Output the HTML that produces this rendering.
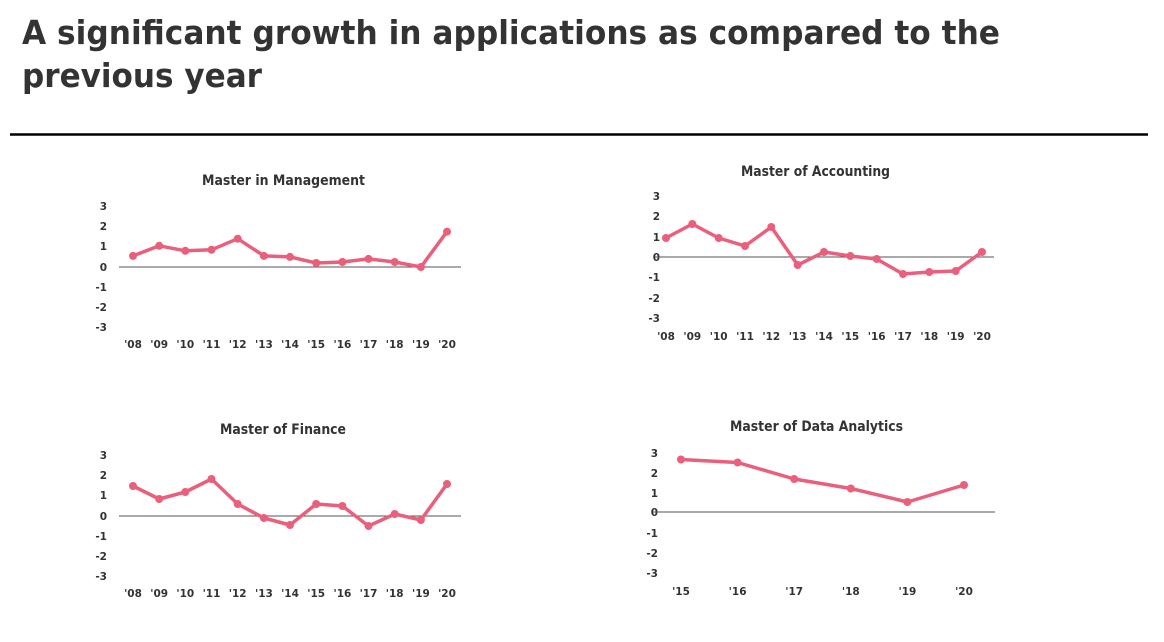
<!DOCTYPE html>
<html><head><meta charset="utf-8"><style>
html,body{margin:0;padding:0;background:#fff;width:1164px;height:642px;overflow:hidden}
svg{display:block}
text{font-family:"DejaVu Sans","Liberation Sans",sans-serif;font-weight:bold;fill:#333}
.t{font-size:14px}
.a{font-size:10.5px}
.y{text-anchor:end}
.x{text-anchor:middle}
polyline{fill:none;stroke:#ea5f7b;stroke-width:3.5;stroke-linejoin:round}
circle{fill:#ea5f7b}
.z{stroke:#555;stroke-width:1}
</style></head><body>
<svg width="1164" height="642" viewBox="0 0 1164 642">
<text x="22" y="44" font-size="33" textLength="978" lengthAdjust="spacingAndGlyphs">A significant growth in applications as compared to the</text>
<text x="22" y="87" font-size="33" textLength="240" lengthAdjust="spacingAndGlyphs">previous year</text>
<line x1="10" y1="134.5" x2="1148" y2="134.5" stroke="#000" stroke-width="2.5"/>

<!-- Chart 1 -->
<text class="t" x="202" y="185" textLength="163" lengthAdjust="spacingAndGlyphs">Master in Management</text>
<g class="a y"><text x="107" y="210">3</text><text x="107" y="230">2</text><text x="107" y="250">1</text><text x="107" y="271">0</text><text x="107" y="291">-1</text><text x="107" y="311">-2</text><text x="107" y="331">-3</text></g>
<line class="z" x1="119" y1="267" x2="461" y2="267"/>
<g class="a x"><text x="133" y="348">'08</text><text x="159.2" y="348">'09</text><text x="185.3" y="348">'10</text><text x="211.5" y="348">'11</text><text x="237.7" y="348">'12</text><text x="263.9" y="348">'13</text><text x="290" y="348">'14</text><text x="316.2" y="348">'15</text><text x="342.4" y="348">'16</text><text x="368.5" y="348">'17</text><text x="394.7" y="348">'18</text><text x="420.9" y="348">'19</text><text x="447" y="348">'20</text></g>
<polyline points="133,255.9 159.2,245.8 185.3,250.8 211.5,249.8 237.7,238.7 263.9,255.9 290,256.9 316.2,263 342.4,262 368.5,258.9 394.7,262 420.9,267 447,231.7"/>
<g><circle cx="133" cy="255.9" r="4"/><circle cx="159.2" cy="245.8" r="4"/><circle cx="185.3" cy="250.8" r="4"/><circle cx="211.5" cy="249.8" r="4"/><circle cx="237.7" cy="238.7" r="4"/><circle cx="263.9" cy="255.9" r="4"/><circle cx="290" cy="256.9" r="4"/><circle cx="316.2" cy="263" r="4"/><circle cx="342.4" cy="262" r="4"/><circle cx="368.5" cy="258.9" r="4"/><circle cx="394.7" cy="262" r="4"/><circle cx="420.9" cy="267" r="4"/><circle cx="447" cy="231.7" r="4"/></g>

<!-- Chart 2 -->
<text class="t" x="741" y="176" textLength="149" lengthAdjust="spacingAndGlyphs">Master of Accounting</text>
<g class="a y"><text x="660" y="200">3</text><text x="660" y="220">2</text><text x="660" y="241">1</text><text x="660" y="261">0</text><text x="660" y="281">-1</text><text x="660" y="302">-2</text><text x="660" y="322">-3</text></g>
<line class="z" x1="655" y1="257" x2="994" y2="257"/>
<g class="a x"><text x="666" y="340">'08</text><text x="692.3" y="340">'09</text><text x="718.7" y="340">'10</text><text x="745" y="340">'11</text><text x="771.3" y="340">'12</text><text x="797.7" y="340">'13</text><text x="824" y="340">'14</text><text x="850.3" y="340">'15</text><text x="876.7" y="340">'16</text><text x="903" y="340">'17</text><text x="929.3" y="340">'18</text><text x="955.7" y="340">'19</text><text x="982" y="340">'20</text></g>
<polyline points="666,238 692.3,224 718.7,238 745,246 771.3,227 797.7,265 824,252 850.3,256 876.7,259 903,274 929.3,272 955.7,271 982,252"/>
<g><circle cx="666" cy="238" r="4"/><circle cx="692.3" cy="224" r="4"/><circle cx="718.7" cy="238" r="4"/><circle cx="745" cy="246" r="4"/><circle cx="771.3" cy="227" r="4"/><circle cx="797.7" cy="265" r="4"/><circle cx="824" cy="252" r="4"/><circle cx="850.3" cy="256" r="4"/><circle cx="876.7" cy="259" r="4"/><circle cx="903" cy="274" r="4"/><circle cx="929.3" cy="272" r="4"/><circle cx="955.7" cy="271" r="4"/><circle cx="982" cy="252" r="4"/></g>

<!-- Chart 3 -->
<text class="t" x="220" y="434" textLength="126" lengthAdjust="spacingAndGlyphs">Master of Finance</text>
<g class="a y"><text x="107" y="459">3</text><text x="107" y="479">2</text><text x="107" y="499">1</text><text x="107" y="520">0</text><text x="107" y="540">-1</text><text x="107" y="560">-2</text><text x="107" y="580">-3</text></g>
<line class="z" x1="119" y1="516" x2="461" y2="516"/>
<g class="a x"><text x="133" y="597">'08</text><text x="159.2" y="597">'09</text><text x="185.3" y="597">'10</text><text x="211.5" y="597">'11</text><text x="237.7" y="597">'12</text><text x="263.9" y="597">'13</text><text x="290" y="597">'14</text><text x="316.2" y="597">'15</text><text x="342.4" y="597">'16</text><text x="368.5" y="597">'17</text><text x="394.7" y="597">'18</text><text x="420.9" y="597">'19</text><text x="447" y="597">'20</text></g>
<polyline points="133,486 159.2,499 185.3,492 211.5,479 237.7,504 263.9,518 290,525 316.2,504 342.4,506 368.5,526 394.7,514 420.9,520 447,484"/>
<g><circle cx="133" cy="486" r="4"/><circle cx="159.2" cy="499" r="4"/><circle cx="185.3" cy="492" r="4"/><circle cx="211.5" cy="479" r="4"/><circle cx="237.7" cy="504" r="4"/><circle cx="263.9" cy="518" r="4"/><circle cx="290" cy="525" r="4"/><circle cx="316.2" cy="504" r="4"/><circle cx="342.4" cy="506" r="4"/><circle cx="368.5" cy="526" r="4"/><circle cx="394.7" cy="514" r="4"/><circle cx="420.9" cy="520" r="4"/><circle cx="447" cy="484" r="4"/></g>

<!-- Chart 4 -->
<text class="t" x="730" y="431" textLength="173" lengthAdjust="spacingAndGlyphs">Master of Data Analytics</text>
<g class="a y"><text x="658" y="457">3</text><text x="658" y="477">2</text><text x="658" y="497">1</text><text x="658" y="516">0</text><text x="658" y="537">-1</text><text x="658" y="557">-2</text><text x="658" y="577">-3</text></g>
<line class="z" x1="653" y1="512" x2="995" y2="512"/>
<g class="a x"><text x="681" y="595">'15</text><text x="737.6" y="595">'16</text><text x="794.2" y="595">'17</text><text x="850.8" y="595">'18</text><text x="907.4" y="595">'19</text><text x="964" y="595">'20</text></g>
<polyline points="681,459.5 737.6,462.5 794.2,479 850.8,488.5 907.4,502 964,485"/>
<g><circle cx="681" cy="459.5" r="4"/><circle cx="737.6" cy="462.5" r="4"/><circle cx="794.2" cy="479" r="4"/><circle cx="850.8" cy="488.5" r="4"/><circle cx="907.4" cy="502" r="4"/><circle cx="964" cy="485" r="4"/></g>
</svg>
</body></html>
